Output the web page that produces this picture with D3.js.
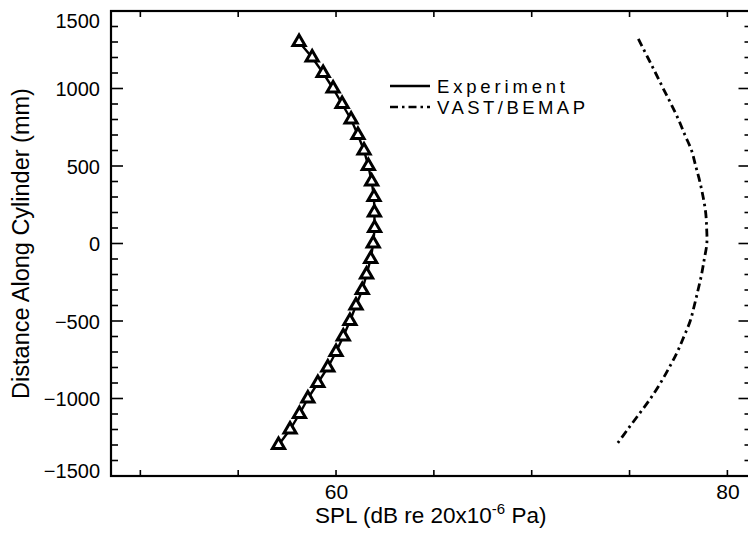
<!DOCTYPE html>
<html>
<head>
<meta charset="utf-8">
<script src="https://cdn.jsdelivr.net/npm/d3@7"></script>
<style>
  html, body { margin: 0; padding: 0; background: #fff; }
  svg { display: block; }
  text { font-family: "Liberation Sans", Arial, Helvetica, sans-serif; fill: #000; }
</style>
</head>
<body>
<svg id="chart" width="748" height="536"></svg>
<script>
// Measured SPL along the cylinder (mm) and the VAST/BEMAP prediction
const expDistance = [1300, 1200, 1100, 1000, 900, 800, 700, 600, 500, 400, 300, 200, 100, 0,
  -100, -200, -300, -400, -500, -600, -700, -800, -900, -1000, -1100, -1200, -1300];
const expSPL = [58.11, 58.78, 59.34, 59.85, 60.31, 60.77, 61.12, 61.43, 61.65, 61.82, 61.94, 61.96, 61.97, 61.90,
  61.77, 61.56, 61.34, 61.02, 60.71, 60.37, 60.00, 59.58, 59.07, 58.56, 58.13, 57.65, 57.06];

const vastDistance = [1320, 1200, 1100, 1000, 900, 800, 700, 600, 500, 400, 300, 200, 100, 0,
  -100, -200, -300, -400, -500, -600, -700, -800, -900, -1000, -1100, -1200, -1290];
const vastSPL = [75.45, 75.93, 76.33, 76.72, 77.12, 77.50, 77.83, 78.17, 78.38, 78.59, 78.76, 78.89, 78.94, 78.95,
  78.82, 78.68, 78.50, 78.31, 78.10, 77.78, 77.44, 77.03, 76.58, 76.07, 75.49, 74.90, 74.38];

const xTickLabels = [60, 80];
const yTickLabels = [-1500, -1000, -500, 0, 500, 1000, 1500];
const legendNames = ["Experiment", "VAST/BEMAP"];

const svg = d3.select("#chart");
const plotLeft = 111, plotRight = 749.5, plotTop = 11, plotBottom = 476;

const x = d3.scaleLinear().domain([48.5, 81.13]).range([plotLeft, plotRight]);
const y = d3.scaleLinear().domain([-1500, 1500]).range([plotBottom, plotTop]);

// Frame ticks: 100 mm minor / 500 mm major, 5 dB on the SPL axis
const yMinor = d3.range(-1500, 1501, 100);
const xMinor = d3.range(50, 81, 5);

const ticks = svg.append("g").attr("stroke", "#000").attr("stroke-width", 1.6);
yMinor.forEach(v => {
  const major = v % 500 === 0;
  ticks.append("line").attr("x1", plotLeft).attr("x2", plotLeft + (major ? 12 : 7))
    .attr("y1", y(v)).attr("y2", y(v));
  ticks.append("line").attr("x1", plotRight).attr("x2", plotRight - (major ? 11 : 5))
    .attr("y1", y(v)).attr("y2", y(v));
});
xMinor.forEach(v => {
  ticks.append("line").attr("x1", x(v)).attr("x2", x(v)).attr("y1", plotBottom).attr("y2", plotBottom - 6);
  ticks.append("line").attr("x1", x(v)).attr("x2", x(v)).attr("y1", plotTop).attr("y2", plotTop + 6);
});

// Frame
svg.append("rect")
  .attr("x", plotLeft).attr("y", plotTop)
  .attr("width", plotRight - plotLeft).attr("height", plotBottom - plotTop)
  .attr("fill", "none").attr("stroke", "#000").attr("stroke-width", 2.2);

// Axis labels through d3 axes (tick lines hidden, frame draws them)
const yAxis = d3.axisLeft(y).tickValues(yTickLabels).tickSize(0).tickPadding(11).tickFormat(d3.format("d"));
const gy = svg.append("g").attr("transform", `translate(${plotLeft},0)`).call(yAxis);
gy.select(".domain").remove();
gy.selectAll("text")
  .attr("font-family", "Liberation Sans, Arial, sans-serif")
  .attr("font-size", 20)
  .attr("dy", d => d === 1500 ? "0.8em" : d === -1500 ? "0.05em" : "0.35em");

const xAxis = d3.axisBottom(x).tickValues(xTickLabels).tickSize(0).tickPadding(8).tickFormat(d3.format("d"));
const gx = svg.append("g").attr("transform", `translate(0,${plotBottom})`).call(xAxis);
gx.select(".domain").remove();
gx.selectAll("text")
  .attr("font-family", "Liberation Sans, Arial, sans-serif")
  .attr("font-size", 21);

// Axis titles
svg.append("text")
  .attr("transform", `translate(29,${y(0)}) rotate(-90)`)
  .attr("text-anchor", "middle")
  .attr("font-size", 23.5)
  .text("Distance Along Cylinder (mm)");

const xt = svg.append("text")
  .attr("x", 315).attr("y", 523)
  .attr("font-size", 22.5);
xt.append("tspan").text("SPL (dB re 20x10");
xt.append("tspan").attr("dy", -9).attr("font-size", 15).text("-6");
xt.append("tspan").attr("dy", 9).text(" Pa)");

// Curves
const vastLine = d3.line().x(d => x(d[1])).y(d => y(d[0])).curve(d3.curveCatmullRom);
const expLine = d3.line().x(d => x(d[1])).y(d => y(d[0]));

const vastPts = vastDistance.map((d, i) => [d, vastSPL[i]]);
svg.append("path").datum(vastPts)
  .attr("d", vastLine).attr("fill", "none")
  .attr("stroke", "#000").attr("stroke-width", 2.8)
  .attr("stroke-dasharray", "8,4,2.5,4");

const expPts = expDistance.map((d, i) => [d, expSPL[i]]);
svg.append("path").datum(expPts)
  .attr("d", expLine).attr("fill", "none")
  .attr("stroke", "#000").attr("stroke-width", 2.4);

const tri = d3.symbol().type(d3.symbolTriangle).size(64);
svg.append("g").selectAll("path").data(expPts).join("path")
  .attr("transform", d => `translate(${x(d[1])},${y(d[0])})`)
  .attr("d", tri)
  .attr("fill", "#fff").attr("stroke", "#000").attr("stroke-width", 3)
  .attr("stroke-linejoin", "miter");

// Legend
const legend = svg.append("g");
const legendStyles = [null, "8,4,2.5,4"];
const legendWidths = [128, 148];
legendNames.forEach((name, i) => {
  const ly = 86 + i * 21;
  legend.append("line").attr("x1", 390).attr("x2", 430).attr("y1", ly).attr("y2", ly)
    .attr("stroke", "#000").attr("stroke-width", 2.4)
    .attr("stroke-dasharray", legendStyles[i]);
  legend.append("text").attr("x", 437).attr("y", ly + 7)
    .attr("font-family", "'DejaVu Sans', 'Liberation Sans', sans-serif")
    .attr("font-size", 18.5)
    .attr("textLength", legendWidths[i])
    .attr("lengthAdjust", "spacing")
    .text(name);
});
</script>
</body>
</html>
